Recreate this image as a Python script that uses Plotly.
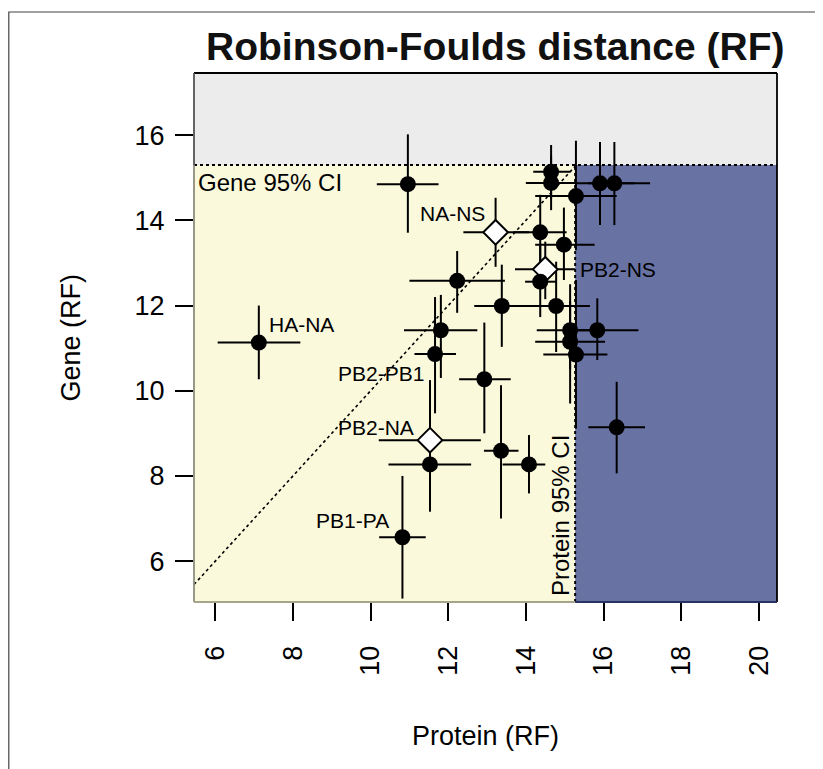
import plotly.graph_objects as go

# ---- data ----
pair = ["HA-NA", "", "NA-NS", "", "", "", "", "", "", "", "PB2-NS", "", "", "",
        "", "", "", "", "", "", "", "PB2-PB1", "", "PB2-NA", "", "", "", "PB1-PA"]
protein = [7.12, 10.96, 13.22, 14.37, 14.65, 14.65, 15.29, 15.91, 16.28, 14.98, 14.50, 14.37, 13.38, 14.78,
           15.14, 15.84, 15.14, 15.29, 16.34, 12.23, 11.81, 11.66, 12.93, 11.53, 11.53, 13.36, 14.08, 10.82]
protein_lo = [6.06, 10.16, 12.39, 13.68, 14.19, 14.00, 14.24, 15.30, 15.60, 14.24, 13.72, 13.98, 12.67, 14.02,
              14.28, 15.30, 14.24, 14.45, 15.61, 11.00, 10.86, 11.13, 12.28, 10.21, 10.46, 12.92, 13.40, 10.22]
protein_hi = [8.19, 11.75, 14.08, 15.05, 15.14, 15.35, 16.34, 16.80, 17.20, 15.77, 15.27, 14.80, 14.05, 15.65,
              15.90, 16.90, 16.04, 16.10, 17.07, 13.46, 12.75, 12.20, 13.61, 12.84, 12.59, 13.81, 14.50, 11.42]
gene = [11.13, 14.85, 13.72, 13.72, 15.14, 14.88, 14.57, 14.87, 14.87, 13.43, 12.85, 12.56, 11.99, 11.99,
        11.42, 11.42, 11.15, 10.85, 9.14, 12.58, 11.42, 10.86, 10.27, 8.84, 8.27, 8.59, 8.27, 6.56]
gene_lo = [10.27, 13.71, 12.91, 12.85, 14.50, 14.24, 13.30, 13.89, 13.89, 12.60, 12.15, 11.73, 11.03, 10.91,
           10.50, 10.72, 9.70, 9.11, 8.06, 11.83, 10.30, 9.47, 9.00, 8.10, 7.16, 7.00, 7.59, 5.12]
gene_hi = [12.00, 16.02, 14.53, 14.60, 15.77, 15.50, 15.87, 15.84, 15.84, 14.30, 13.50, 13.40, 12.96, 13.03,
           12.50, 12.17, 12.10, 12.60, 10.21, 13.28, 12.25, 12.20, 11.60, 10.25, 9.30, 10.13, 8.96, 8.00]
highlight = [p in ("NA-NS", "PB2-NS", "PB2-NA") for p in pair]

gene_ci = 15.30
protein_ci = 15.27
x_ticks = [6, 8, 10, 12, 14, 16, 18, 20]
y_ticks = [6, 8, 10, 12, 14, 16]
xr = [5.45, 20.47]
yr = [5.04, 17.46]

# label positions (data units) and anchors
labels = [
    ("HA-NA", 7.34, 11.56, "left"),
    ("NA-NS", 13.00, 14.15, "right"),
    ("PB2-NS", 15.34, 12.85, "left"),
    ("PB2-PB1", 11.43, 10.41, "right"),
    ("PB2-NA", 11.17, 9.14, "right"),
    ("PB1-PA", 10.52, 6.96, "right"),
]

FONT = "Liberation Sans, Arial, Helvetica, sans-serif"

# figure geometry (page has an 8px body margin)
W, H = 815, 761
ML, MR, MT, MB = 186, 46, 65, 167
PW, PH = W - ML - MR, H - MT - MB

fig = go.Figure()

# background regions
fig.add_shape(type="rect", x0=xr[0], x1=xr[1], y0=gene_ci, y1=yr[1],
              fillcolor="#ECECEC", line_width=0, layer="below")
fig.add_shape(type="rect", x0=xr[0], x1=protein_ci, y0=yr[0], y1=gene_ci,
              fillcolor="#FBF9DC", line_width=0, layer="below")
fig.add_shape(type="rect", x0=protein_ci, x1=xr[1], y0=yr[0], y1=gene_ci,
              fillcolor="#6872A3", line_width=0, layer="below")

# dotted reference lines
fig.add_shape(type="line", x0=xr[0], x1=xr[1], y0=gene_ci, y1=gene_ci,
              line=dict(color="black", width=2, dash="dot"))
fig.add_shape(type="line", x0=protein_ci, x1=protein_ci, y0=yr[0], y1=gene_ci,
              line=dict(color="black", width=2, dash="dot"))
fig.add_shape(type="line", x0=xr[0], x1=protein_ci, y0=xr[0], y1=protein_ci,
              line=dict(color="black", width=1.6, dash="dot"))

# plot box (left/bottom edges tinted by the fills, as in the reference)
ci_px = (protein_ci - xr[0]) / (xr[1] - xr[0])
gci_py = (gene_ci - yr[0]) / (yr[1] - yr[0])
box = [
    (0, 1, 1, 1, "black"),
    (1, 1, 0, 1, "black"),
    (0, 0, 0, gci_py, "#8e8d7e"),
    (0, 0, gci_py, 1, "#555555"),
    (0, ci_px, 0, 0, "#a6a48a"),
    (ci_px, 1, 0, 0, "#2a3163"),
]
for x0, x1, y0, y1, c in box:
    fig.add_shape(type="line", xref="paper", yref="paper", x0=x0, x1=x1, y0=y0, y1=y1,
                  line=dict(color=c, width=1.8))

# error bars
fig.add_trace(go.Scatter(
    x=protein, y=gene, mode="markers",
    marker=dict(size=1, color="rgba(0,0,0,0)"),
    error_x=dict(type="data", symmetric=False,
                 array=[h - v for h, v in zip(protein_hi, protein)],
                 arrayminus=[v - l for l, v in zip(protein_lo, protein)],
                 thickness=2, width=0, color="black"),
    error_y=dict(type="data", symmetric=False,
                 array=[h - v for h, v in zip(gene_hi, gene)],
                 arrayminus=[v - l for l, v in zip(gene_lo, gene)],
                 thickness=2, width=0, color="black"),
    hoverinfo="skip", showlegend=False))

# markers
fig.add_trace(go.Scatter(
    x=protein, y=gene, mode="markers", text=pair,
    marker=dict(symbol=["diamond" if h else "circle" for h in highlight],
                size=[19 if h else 16 for h in highlight],
                color=["white" if h else "black" for h in highlight],
                opacity=1,
                line=dict(color="black", width=[2 if h else 0 for h in highlight])),
    showlegend=False))

ann = []
for t, x, y, a in labels:
    ann.append(dict(x=x, y=y, text=t, showarrow=False, xanchor=a, yanchor="middle",
                    font=dict(size=21, color="black", family=FONT)))
ann.append(dict(x=5.50, y=14.89, text="Gene 95% CI", showarrow=False, xanchor="left",
                yanchor="middle", font=dict(size=24, color="black", family=FONT)))
ann.append(dict(x=14.89, y=5.13, text="Protein 95% CI", showarrow=False, xanchor="center",
                yanchor="bottom", textangle=-90, font=dict(size=24, color="black", family=FONT)))
# title and axis titles
ann.append(dict(xref="paper", yref="paper", x=0.517, y=1.0, yshift=27,
                text="<b>Robinson-Foulds distance (RF)</b>",
                showarrow=False, xanchor="center", yanchor="middle",
                font=dict(size=39, color="#111111", family=FONT)))
ann.append(dict(xref="paper", yref="paper", x=0.5, y=0, yshift=-134, text="Protein (RF)",
                showarrow=False, xanchor="center", yanchor="middle",
                font=dict(size=27, color="black", family=FONT)))
ann.append(dict(xref="paper", yref="paper", x=0, xshift=-124, y=0.5, text="Gene (RF)", textangle=-90,
                showarrow=False, xanchor="center", yanchor="middle",
                font=dict(size=27, color="black", family=FONT)))

# outer frame (top-left corner visible)
fx = (0.8 - ML) / PW
fy = (PH + MT - 4) / PH
fig.add_shape(type="path", xref="paper", yref="paper",
              path=f"M {fx} -0.5 L {fx} {fy} L 1.2 {fy}",
              line=dict(color="#444444", width=1.2))

fig.update_layout(
    width=W, height=H,
    margin=dict(l=ML, r=MR, t=MT, b=MB),
    paper_bgcolor="white", plot_bgcolor="white",
    annotations=ann,
    xaxis=dict(range=xr, tickvals=x_ticks, ticktext=[str(v) for v in x_ticks],
               ticks="outside", ticklen=18, tickwidth=1.6, tickcolor="black",
               tickangle=-90, tickfont=dict(size=27, family=FONT, color="black"),
               showgrid=False, zeroline=False, showline=False, ticklabelstandoff=14),
    yaxis=dict(range=yr, tickvals=y_ticks, ticktext=[str(v) for v in y_ticks],
               ticks="outside", ticklen=18, tickwidth=1.6, tickcolor="black",
               tickfont=dict(size=27, family=FONT, color="black"),
               showgrid=False, zeroline=False, showline=False, ticklabelstandoff=5),
)

fig.write_html("out.html")
